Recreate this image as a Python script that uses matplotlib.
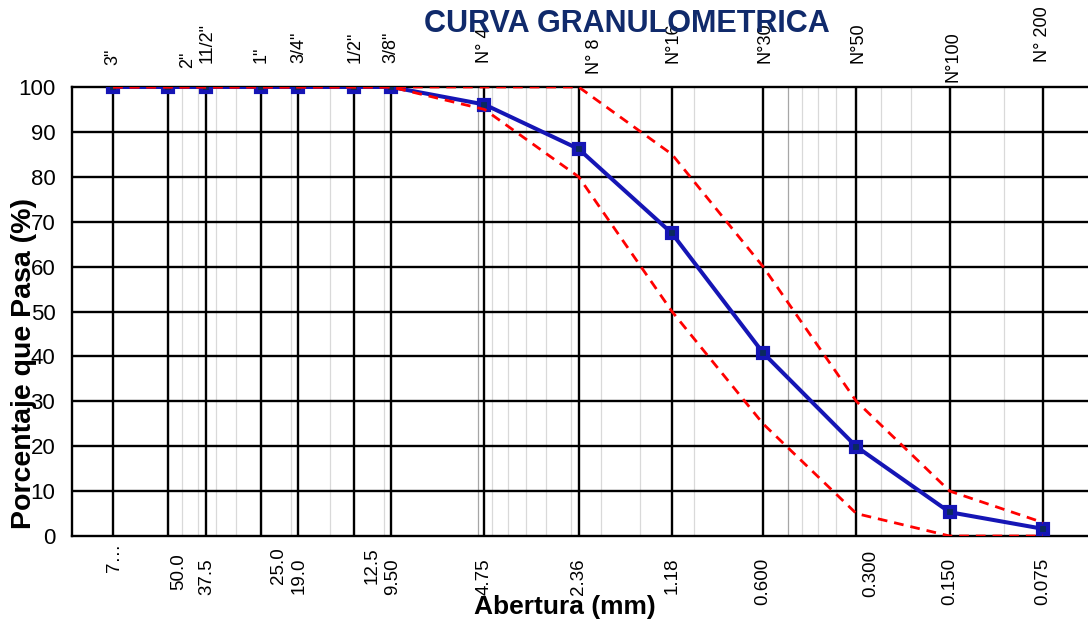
import numpy as np
import matplotlib
matplotlib.use("Agg")
import matplotlib.pyplot as plt
from matplotlib.ticker import NullLocator

plt.rcParams['font.family'] = ['Liberation Sans', 'DejaVu Sans']

# datos de la curva granulometrica
sieve_names = ['3"', '2"', '11/2"', '1"', '3/4"', '1/2"', '3/8"',
               'N° 4', 'N° 8', 'N°16', 'N°30', 'N°50', 'N°100', 'N° 200']
openings = [75.0, 50.0, 37.5, 25.0, 19.0, 12.5, 9.50,
            4.75, 2.36, 1.18, 0.600, 0.300, 0.150, 0.075]
opening_labels = ['7…', '50.0', '37.5', '25.0', '19.0', '12.5', '9.50',
                  '4.75', '2.36', '1.18', '0.600', '0.300', '0.150', '0.075']
passing = [100, 100, 100, 100, 100, 100, 100,
           96.1, 86.2, 67.4, 40.8, 19.9, 5.3, 1.6]
upper_limit = [100, 100, 100, 100, 100, 100, 100,
               100, 100, 85, 60, 30, 10, 3]
lower_limit = [100, 100, 100, 100, 100, 100, 100,
               95, 80, 50, 25, 5, 0, 0]
minor_grid = [m * 10.0 ** e for e in range(-2, 2) for m in (1, 1.5, 2, 2.5, 3, 3.5, 4, 4.5, 5)]

# desplazamientos de las etiquetas (pixeles): (dx, distancia al borde)
top_offsets = [(0, 22), (20, 19), (1, 24), (0, 24), (1, 24), (1, 24), (0, 24),
               (0, 24), (16, 13), (1, 24), (2, 24), (2, 24), (3, 5), (0, 25)]
bottom_offsets = [(2, 7), (11, 17), (1, 22), (18, 11), (1, 22), (18, 11), (1, 22),
                  (0, 22), (0, 22), (0, 22), (0, 22), (14, 14), (0, 22), (0, 22)]

fig = plt.figure(figsize=(10.88, 6.24), dpi=100)
ax = fig.add_axes([72 / 1088, 88 / 624, 1040 / 1088, 449 / 624])
ax.set_xscale('log')
ax.set_xlim(101.7, 0.04492)
ax.set_ylim(0, 100)

for v in minor_grid:
    c = '#a6a6a6' if v in (5.0, 0.5) else '#d9d9d9'
    ax.axvline(v, color=c, lw=0.9, zorder=1)
for v in openings:
    ax.axvline(v, color='black', lw=1.7, zorder=2)
for y in range(10, 100, 10):
    ax.axhline(y, color='black', lw=1.7, zorder=2)

ax.plot(openings, passing, color='#1515b5', lw=2.9, marker='s', ms=7.5,
        mfc='#0b2a5c', mec='#1515b5', mew=3, zorder=3)
ax.plot(openings, upper_limit, color='#ff0000', lw=2, ls=(0, (3.5, 2.5)), zorder=4)
ax.plot(openings, lower_limit, color='#ff0000', lw=2, ls=(0, (3.5, 2.5)), zorder=4)

for name, v, (dx, dy) in zip(sieve_names, openings, top_offsets):
    ax.annotate(name, xy=(v, 1), xycoords=('data', 'axes fraction'),
                xytext=(dx, dy), textcoords='offset pixels',
                rotation=90, ha='center', va='bottom', fontsize=13)
for lab, v, (dx, dy) in zip(opening_labels, openings, bottom_offsets):
    ax.annotate(lab, xy=(v, 0), xycoords=('data', 'axes fraction'),
                xytext=(dx, -dy), textcoords='offset pixels',
                rotation=90, ha='center', va='top', fontsize=13.5)

ax.set_xticks([])
ax.xaxis.set_minor_locator(NullLocator())
ax.set_yticks(range(0, 101, 10))
ax.tick_params(axis='y', length=0, pad=12, labelsize=16)
ax.tick_params(axis='x', which='both', length=0, labelbottom=False)
for s in ax.spines.values():
    s.set_color('black')
    s.set_linewidth(1.7)

fig.text(0.576, 0.962, 'CURVA GRANULOMETRICA', ha='center', va='center',
         fontsize=22, fontweight='bold', color='#102a6b')
fig.text(0.519, 0.027, 'Abertura (mm)', ha='center', va='center',
         fontsize=19, fontweight='bold')
fig.text(0.022, 0.417, 'Porcentaje que Pasa (%)', ha='center', va='center',
         rotation=90, fontsize=20.5, fontweight='bold')

fig.savefig('out.png', dpi=100)
